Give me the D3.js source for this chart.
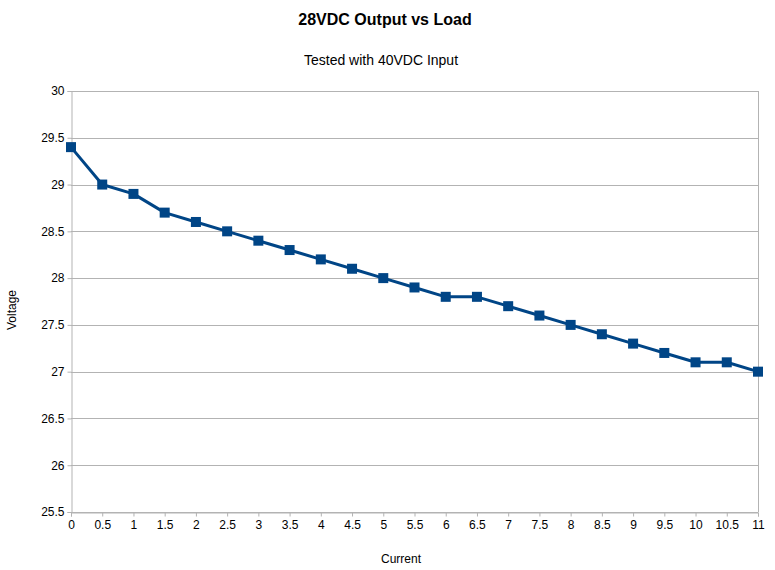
<!DOCTYPE html>
<html>
<head>
<meta charset="utf-8">
<script src="https://cdn.jsdelivr.net/npm/d3@7"></script>
<style>
  body { margin: 0; background: #fff; }
  text { font-family: "Liberation Sans", Arial, sans-serif; }
</style>
</head>
<body>
<div id="chart"></div>
<script>
// 28VDC output vs load
const current = [0, 0.5, 1, 1.5, 2, 2.5, 3, 3.5, 4, 4.5, 5, 5.5, 6, 6.5, 7, 7.5, 8, 8.5, 9, 9.5, 10, 10.5, 11];
const voltage = [29.4, 29.0, 28.9, 28.7, 28.6, 28.5, 28.4, 28.3, 28.2, 28.1, 28.0, 27.9, 27.8, 27.8, 27.7, 27.6, 27.5, 27.4, 27.3, 27.2, 27.1, 27.1, 27.0];
const yTicks = [25.5, 26, 26.5, 27, 27.5, 28, 28.5, 29, 29.5, 30];

const width = 775, height = 570;
const margin = { top: 91, right: 17, bottom: 58, left: 71 };

const svg = d3.select('#chart').append('svg')
  .attr('width', width)
  .attr('height', height);

const x = d3.scaleLinear()
  .domain([0, 11])
  .range([margin.left, width - margin.right]);

const y = d3.scaleLinear()
  .domain([25.5, 30])
  .range([height - margin.bottom, margin.top]);

// horizontal grid
svg.append('g')
  .selectAll('line')
  .data(yTicks)
  .enter().append('line')
  .attr('x1', margin.left)
  .attr('x2', width - margin.right)
  .attr('y1', d => Math.round(y(d)) + 0.5)
  .attr('y2', d => Math.round(y(d)) + 0.5)
  .attr('stroke', '#b3b3b3')
  .attr('stroke-width', 1);

// right border
svg.append('line')
  .attr('x1', Math.round(x(11)) + 0.5)
  .attr('x2', Math.round(x(11)) + 0.5)
  .attr('y1', y(30))
  .attr('y2', y(25.5))
  .attr('stroke', '#b3b3b3');

// y axis
const yAxis = svg.append('g')
  .attr('transform', `translate(${Math.round(x(0)) + 0.5},0)`)
  .call(d3.axisLeft(y).tickValues(yTicks).tickSize(4).tickPadding(3).tickFormat(d3.format('')));

// x axis
const xAxis = svg.append('g')
  .attr('transform', `translate(0,${Math.round(y(25.5)) + 0.5})`)
  .call(d3.axisBottom(x).tickValues(current).tickSize(4).tickPadding(4).tickFormat(d3.format('')));

[yAxis, xAxis].forEach(a => {
  a.select('.domain').attr('stroke', '#b3b3b3');
  a.selectAll('.tick line').attr('stroke', '#b3b3b3');
  a.selectAll('.tick text')
    .attr('fill', '#000')
    .style('font-size', '12px')
    .style('font-family', '"Liberation Sans", Arial, sans-serif');
});

// series
const pts = current.map((c, i) => [c, voltage[i]]);

svg.append('path')
  .datum(pts)
  .attr('fill', 'none')
  .attr('stroke', '#004586')
  .attr('stroke-width', 3)
  .attr('stroke-linejoin', 'round')
  .attr('d', d3.line().x(d => x(d[0])).y(d => y(d[1])));

const ms = 10;
svg.append('g')
  .selectAll('rect')
  .data(pts)
  .enter().append('rect')
  .attr('x', d => x(d[0]) - ms / 2)
  .attr('y', d => y(d[1]) - ms / 2)
  .attr('width', ms)
  .attr('height', ms)
  .attr('fill', '#004586');

// titles
svg.append('text')
  .attr('x', 385)
  .attr('y', 25)
  .attr('text-anchor', 'middle')
  .style('font-size', '16px')
  .style('font-weight', 'bold')
  .text('28VDC Output vs Load');

svg.append('text')
  .attr('x', 381)
  .attr('y', 65)
  .attr('text-anchor', 'middle')
  .style('font-size', '14px')
  .text('Tested with 40VDC Input');

svg.append('text')
  .attr('x', 401)
  .attr('y', 563)
  .attr('text-anchor', 'middle')
  .style('font-size', '12px')
  .text('Current');

svg.append('text')
  .attr('transform', 'translate(16,310) rotate(-90)')
  .attr('text-anchor', 'middle')
  .style('font-size', '12px')
  .text('Voltage');
</script>
</body>
</html>
